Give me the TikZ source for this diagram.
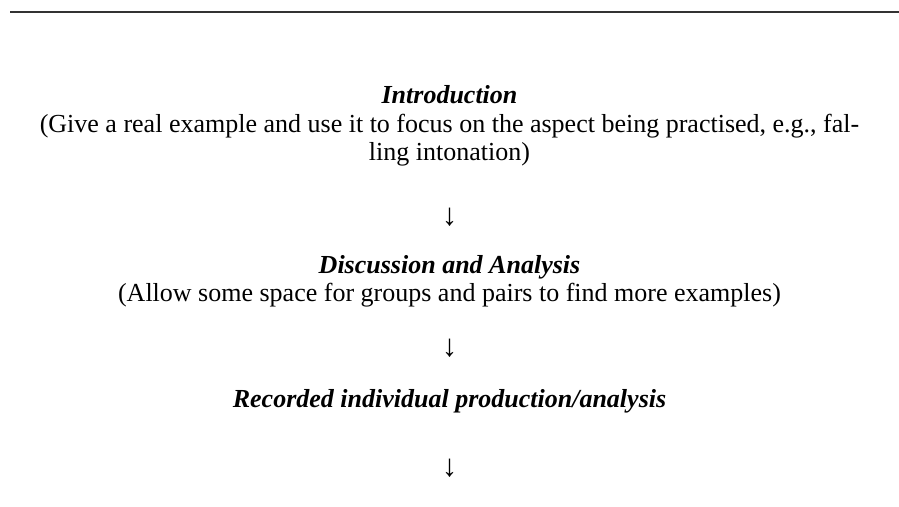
\documentclass[tikz,border=0pt]{standalone}
\usepackage{fontspec}
\setmainfont{Liberation Serif}
\begin{document}
\begin{tikzpicture}[x=1pt,y=-1pt,
  txt/.style={anchor=base,inner sep=0pt,font=\fontsize{26}{29}\selectfont,align=center},
  head/.style={txt,font=\fontsize{26}{29}\selectfont\bfseries\itshape},
  flow/.style={anchor=center,inner sep=0pt,font=\fontsize{31}{34}\selectfont}]
\useasboundingbox (0,0) rectangle (899,506);
% top rule
\coordinate (ruleL) at (10,12);
\coordinate (ruleR) at (899,12);
\draw[line width=1.2pt,black!80] (ruleL) -- (ruleR);
% step 1
\node[head] (intro) at (449.5,103) {Introduction};
\node[txt] (introA) at (449.5,132) {(Give a real example and use it to focus on the aspect being practised, e.g., fal-};
\node[txt] (introB) at (449.5,160) {ling intonation)};
\node[flow] (a1) at (449.5,217) {↓};
% step 2
\node[head] (disc) at (449.5,273) {Discussion and Analysis};
\node[txt] (discA) at (449.5,301) {(Allow some space for groups and pairs to find more examples)};
\node[flow] (a2) at (449.5,348) {↓};
% step 3
\node[head] (rec) at (449.5,407) {Recorded individual production/analysis};
\node[flow] (a3) at (449.5,468) {↓};
\end{tikzpicture}
\end{document}
